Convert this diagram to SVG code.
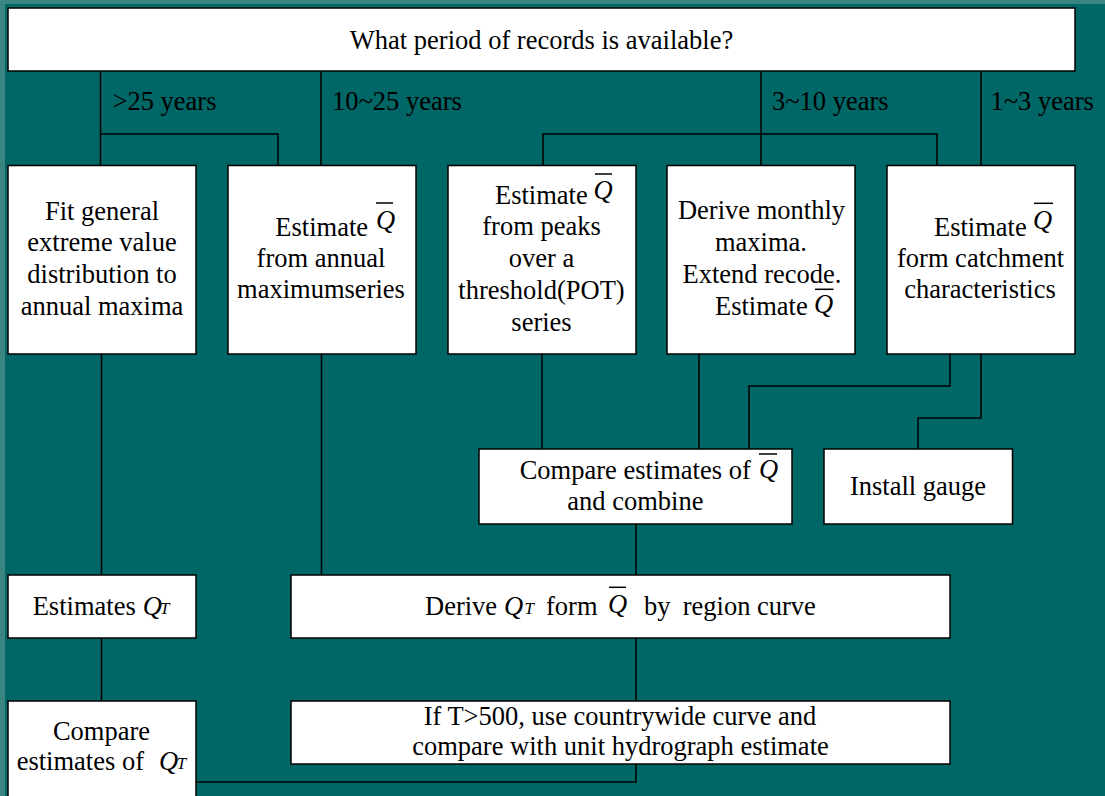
<svg xmlns="http://www.w3.org/2000/svg" width="1105" height="796" viewBox="0 0 1105 796">
<style>
.box{fill:#ffffff;stroke:#000000;stroke-width:1.5}
.t{font-size:26.5px;fill:#000000}
.c{text-anchor:middle}
.q{font-style:italic}
.s{font-size:17px;font-style:italic}
.ln{stroke:#000000;stroke-width:1.5;fill:none}
.ov{stroke:#000000;stroke-width:1.5}
</style>
<rect x="0" y="0" width="1105" height="796" fill="#006666"/>
<rect x="0" y="0" width="5" height="796" fill="#3a8582"/>
<rect x="0" y="0" width="1105" height="4" fill="#3a8582"/>

<g id="connectors">
<path class="ln" d="M100.5 71 V165 M100.5 134 H278 V165 M321 71 V165"/>
<path class="ln" d="M761 71 V165 M543 165 V134 H937 V165 M981 71 V165"/>
<path class="ln" d="M101.5 354 V575 M321.5 354 V575"/>
<path class="ln" d="M542 354 V449 M699 354 V449"/>
<path class="ln" d="M950 354 V386 H749 V449"/>
<path class="ln" d="M981 354 V418 H918 V449"/>
<path class="ln" d="M636 524 V575"/>
<path class="ln" d="M101.5 638 V701"/>
<path class="ln" d="M636 638 V782 H196"/>
</g>

<g font-family="Liberation Serif, Times New Roman, serif">
<g id="labels">
<text class="t" x="112.5" y="110">&gt;25 years</text>
<text class="t" x="332" y="110">10~25 years</text>
<text class="t" x="772" y="110">3~10 years</text>
<text class="t" x="990.5" y="110">1~3 years</text>
</g>

<g id="top">
<rect class="box" x="8" y="8" width="1067" height="63"/>
<text class="t c" x="541.5" y="49">What period of records is available?</text>
</g>

<g id="fit">
<rect class="box" x="8" y="165.5" width="188" height="188.5"/>
<text class="t c" x="102" y="220">Fit general</text>
<text class="t c" x="102" y="251">extreme value</text>
<text class="t c" x="102" y="283">distribution to</text>
<text class="t c" x="102" y="315">annual maxima</text>
</g>

<g id="annual">
<rect class="box" x="228" y="165.5" width="188" height="188.5"/>
<text class="t" x="275.3" y="236">Estimate</text>
<text class="t q" x="376" y="229">Q</text>
<line class="ov" x1="376" y1="203" x2="393" y2="203"/>
<text class="t c" x="321" y="267">from annual</text>
<text class="t c" x="321" y="298">maximumseries</text>
</g>

<g id="pot">
<rect class="box" x="448" y="165.5" width="188" height="188.5"/>
<text class="t" x="495" y="204">Estimate</text>
<text class="t q" x="593.5" y="199">Q</text>
<line class="ov" x1="595" y1="174" x2="612" y2="174"/>
<text class="t c" x="541.5" y="235">from peaks</text>
<text class="t c" x="541.5" y="267">over a</text>
<text class="t c" x="541.5" y="299">threshold(POT)</text>
<text class="t c" x="541.5" y="331">series</text>
</g>

<g id="monthly">
<rect class="box" x="667" y="165.5" width="188" height="188.5"/>
<text class="t c" x="761.5" y="219">Derive monthly</text>
<text class="t c" x="761" y="251">maxima.</text>
<text class="t c" x="762" y="283">Extend recode.</text>
<text class="t" x="715" y="315">Estimate</text>
<text class="t q" x="814" y="312.5">Q</text>
<line class="ov" x1="815" y1="289.3" x2="833.5" y2="289.3"/>
</g>

<g id="catchment">
<rect class="box" x="887" y="165.5" width="188" height="188.5"/>
<text class="t" x="934" y="236">Estimate</text>
<text class="t q" x="1033" y="229">Q</text>
<line class="ov" x1="1034" y1="203.3" x2="1053" y2="203.3"/>
<text class="t c" x="980.5" y="267">form catchment</text>
<text class="t c" x="980" y="298">characteristics</text>
</g>

<g id="combine">
<rect class="box" x="479" y="449" width="313" height="75"/>
<text class="t" x="519.7" y="479">Compare estimates of</text>
<text class="t q" x="759" y="477.7">Q</text>
<line class="ov" x1="759" y1="454" x2="777" y2="454"/>
<text class="t c" x="635.4" y="510">and combine</text>
</g>

<g id="gauge">
<rect class="box" x="824" y="449" width="188.5" height="75"/>
<text class="t c" x="918" y="495">Install gauge</text>
</g>

<g id="estimates">
<rect class="box" x="8" y="575" width="188" height="63"/>
<text class="t" x="32.7" y="615">Estimates</text>
<text class="t q" x="142.7" y="615">Q</text>
<text class="t s" x="160" y="614">T</text>
</g>

<g id="derive">
<rect class="box" x="291" y="575" width="659" height="63"/>
<text class="t" x="425" y="615">Derive</text>
<text class="t q" x="504" y="615">Q</text>
<text class="t s" x="524.5" y="614">T</text>
<text class="t" x="546" y="615">form</text>
<text class="t q" x="608" y="612.7">Q</text>
<line class="ov" x1="609" y1="587.3" x2="626" y2="587.3"/>
<text class="t" x="644" y="615">by</text>
<text class="t" x="682.7" y="615">region curve</text>
</g>

<g id="compareqt">
<rect class="box" x="8" y="701" width="188" height="100"/>
<text class="t c" x="101.5" y="740">Compare</text>
<text class="t" x="16.7" y="770">estimates of</text>
<text class="t q" x="159" y="770">Q</text>
<text class="t s" x="176.7" y="769">T</text>
</g>

<g id="countrywide">
<rect class="box" x="291" y="701" width="659" height="63"/>
<text class="t c" x="620" y="725">If T&gt;500, use countrywide curve and</text>
<text class="t c" x="620.5" y="755">compare with unit hydrograph estimate</text>
</g>
</g>
</svg>
